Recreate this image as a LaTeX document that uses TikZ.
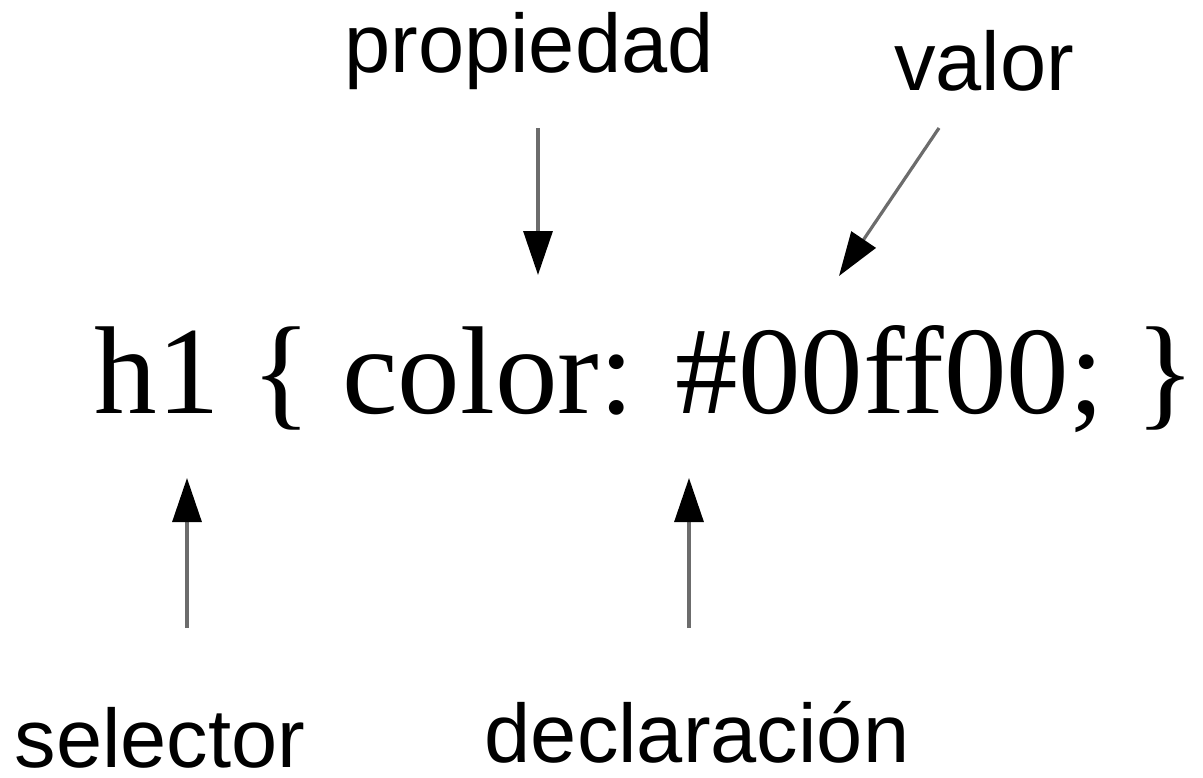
\documentclass[tikz,border=0pt]{standalone}
\usepackage{fontspec}
\setmainfont{Liberation Serif}
\newfontfamily\labelfont{Liberation Sans}
\usetikzlibrary{arrows.meta}
\begin{document}
\begin{tikzpicture}[x=0.5pt, y=-0.5pt,
    rule/.style={font=\fontsize{62.5}{70}\selectfont, inner sep=0pt, anchor=base},
    tag/.style={font=\labelfont\fontsize{41.5}{48}\selectfont, inner sep=0pt, anchor=base},
    pointer/.style={line width=1.6pt, draw=gray!85!black,
        -{Triangle[length=22pt, width=14.5pt, color=black]}}]
    \useasboundingbox (0,0) rectangle (1203,777);
    \node[rule] (css) at (645,413) {h1 \{ color: \#00ff00; \}};
    \node[tag] (prop) at (529,72) {propiedad};
    \node[tag] (val) at (984,90) {valor};
    \node[tag] (sel) at (160,767) {selector};
    \node[tag] (decl) at (697,762) {declaración};
    \coordinate (prop-s) at (538,128);
    \coordinate (prop-e) at (538,275);
    \coordinate (val-s) at (939,128);
    \coordinate (val-e) at (839,276);
    \coordinate (sel-s) at (187,628);
    \coordinate (sel-e) at (187,478);
    \coordinate (decl-s) at (689,628);
    \coordinate (decl-e) at (689,478);
    \draw[pointer] (prop-s) -- (prop-e);
    \draw[pointer] (val-s) -- (val-e);
    \draw[pointer] (sel-s) -- (sel-e);
    \draw[pointer] (decl-s) -- (decl-e);
\end{tikzpicture}
\end{document}
